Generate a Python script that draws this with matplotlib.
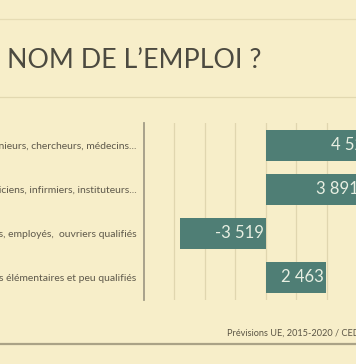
import matplotlib.pyplot as plt
from matplotlib.lines import Line2D

# Données (prévisions d'emploi, milliers)
categories = ['Ingénieurs, chercheurs, médecins...',
              'Techniciens, infirmiers, instituteurs...',
              'Artisans, employés,  ouvriers qualifiés',
              'Professions élémentaires et peu qualifiés']
valeurs = [4527, 3891, -3519, 2463]
etiquettes = ['4 527', '3 891', '-3 519', '2 463']

fond = '#f7eec9'
barre = '#4f7e75'

plt.rcParams['font.family'] = ['Lato', 'DejaVu Sans']

W, H = 356, 364
fig = plt.figure(figsize=(W / 100, H / 100), dpi=100, facecolor=fond)

# axes en pixels : x=-5000 à 144 px, 0 à 265.7 px
px_par_unite = (265.7 - 144) / 5000
xmin, xmax = -5000, 8750
largeur = (xmax - xmin) * px_par_unite
ax = fig.add_axes([144 / W, (H - 300) / H, largeur / W, 177 / H])
ax.set_facecolor('none')

ax.barh(range(len(valeurs)), valeurs, height=0.7, color=barre, zorder=3)
for i, (v, t) in enumerate(zip(valeurs, etiquettes)):
    fin = max(v, 0)
    ax.annotate(t, xy=(fin, i), xytext=(-1.5, 0), textcoords='offset points',
                ha='right', va='center', color='#e8efe2', fontsize=12, zorder=4)

ax.set_xlim(xmin, xmax)
ax.set_ylim(3.52, -0.51)
ax.set_xticks(range(-3750, 8751, 1250))
ax.set_xticklabels([])
ax.grid(axis='x', color='#e0d6af', linewidth=0.9, zorder=0)
ax.tick_params(axis='x', length=0)
ax.set_yticks(range(len(categories)))
ax.set_yticklabels(categories, fontsize=7.5, color='#5e594b')
ax.tick_params(axis='y', length=0, pad=5.5)
for s in ['top', 'right', 'bottom']:
    ax.spines[s].set_visible(False)
ax.spines['left'].set_color('#a29c86')
ax.spines['left'].set_linewidth(1.3)

# titre et filets
fig.text(7 / W, 1 - 60 / H, 'NOM DE L’EMPLOI ?', fontsize=19.3, color='#4c4a40',
         ha='left', va='center')
for y, c, lw in [(18.5, '#e6dcb4', 0.9), (97, '#e2d8b0', 0.9), (344, '#aaa286', 1.6)]:
    fig.add_artist(Line2D([0, 1], [1 - y / H] * 2, color=c, linewidth=lw,
                          transform=fig.transFigure))
fig.text(227 / W, 1 - 333 / H, 'Prévisions UE, 2015-2020 / CEDEFOP', fontsize=6.6,
         color='#5a5444', ha='left', va='center')

fig.savefig('out.png', dpi=100, facecolor=fond)
